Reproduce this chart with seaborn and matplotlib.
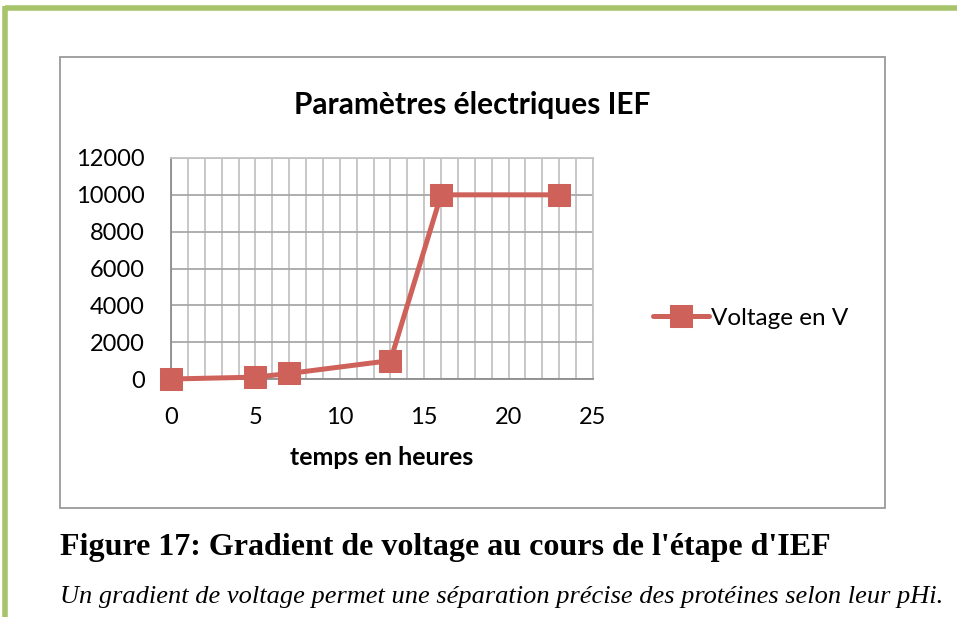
import matplotlib
matplotlib.use("Agg")
import matplotlib.pyplot as plt
import seaborn as sns
from matplotlib.patches import Rectangle
from matplotlib.lines import Line2D

# données
heures = [0, 5, 7, 13, 16, 23]
voltage = [0, 100, 300, 1000, 10000, 10000]
serie = "Voltage en V"
titre = "Paramètres électriques IEF"
xlabel = "temps en heures"
legende_fig = "Figure 17: Gradient de voltage au cours de l'étape d'IEF"
sous_titre = "Un gradient de voltage permet une séparation précise des protéines selon leur pHi."

sns.set_style("white")
plt.rcParams["font.family"] = ["Lato", "DejaVu Sans"]
plt.rcParams["text.color"] = "black"
plt.rcParams["xtick.labelcolor"] = "black"
plt.rcParams["ytick.labelcolor"] = "black"
plt.rcParams["axes.labelcolor"] = "black"

W, H = 957, 617
fig = plt.figure(figsize=(W / 100, H / 100), dpi=100)

def fx(px):
    return px / W

def fy(py):
    return 1 - py / H

# bordure verte (style page)
vert = "#A8C46A"
fig.add_artist(Line2D([fx(5), fx(957)], [fy(8), fy(8)], color=vert, lw=4, solid_capstyle="butt"))
fig.add_artist(Line2D([fx(5), fx(5)], [fy(6), fy(617)], color=vert, lw=4, solid_capstyle="butt"))

# cadre du graphique
fig.add_artist(Rectangle((fx(60), fy(508)), fx(885) - fx(60), fy(57) - fy(508),
                         transform=fig.transFigure, fill=False, edgecolor="#9a9a9a", lw=1.3))

ax = fig.add_axes([fx(171), fy(379), fx(593) - fx(171), fy(158) - fy(379)])
couleur = "#CF615B"
sns.lineplot(x=heures, y=voltage, ax=ax, color=couleur, marker="s", markersize=15.5,
             markeredgecolor=couleur, linewidth=3.6, label=serie, legend=False,
             clip_on=False, zorder=5)

ax.set_xlim(0, 25)
ax.set_ylim(0, 12000)
ax.set_xticks(range(0, 26, 5))
ax.set_xticks(range(0, 26, 1), minor=True)
ax.set_yticks(range(0, 12001, 2000))
ax.grid(which="minor", axis="x", color="#c4c4c4", lw=1.3)
ax.grid(which="major", axis="x", color="#c4c4c4", lw=1.3)
ax.grid(which="major", axis="y", color="#a8a8a8", lw=1.3)
ax.tick_params(which="minor", length=0)
ax.tick_params(which="major", length=7, width=1.3, color="#8c8c8c", direction="out",
               labelsize=17)
ax.tick_params(axis="y", pad=12)
ax.tick_params(axis="x", pad=13)
for side in ["left", "bottom"]:
    ax.spines[side].set_color("#8c8c8c")
    ax.spines[side].set_linewidth(1.3)
for side in ["top", "right"]:
    ax.spines[side].set_color("#c4c4c4")
    ax.spines[side].set_linewidth(1.3)
ax.set_axisbelow(True)

ax.set_xlabel(xlabel, fontsize=18, fontweight="bold", labelpad=13)
ax.set_ylabel("")
fig.text(fx(472), fy(105), titre, ha="center", va="center", fontsize=21.5, fontweight="bold")

handles, labels = ax.get_legend_handles_labels()
fig.legend(handles, labels, loc="center left", bbox_to_anchor=(fx(631), fy(318)),
           frameon=False, fontsize=17.5, handlelength=2.3, handletextpad=0.1)

fig.text(fx(60), fy(548), legende_fig, ha="left", va="center", fontsize=23,
         fontweight="bold", family=["Liberation Serif", "DejaVu Serif"])
fig.text(fx(60), fy(597), sous_titre, ha="left", va="center", fontsize=19,
         fontstyle="italic", family=["Liberation Serif", "DejaVu Serif"])

fig.savefig("out.png", dpi=100)
